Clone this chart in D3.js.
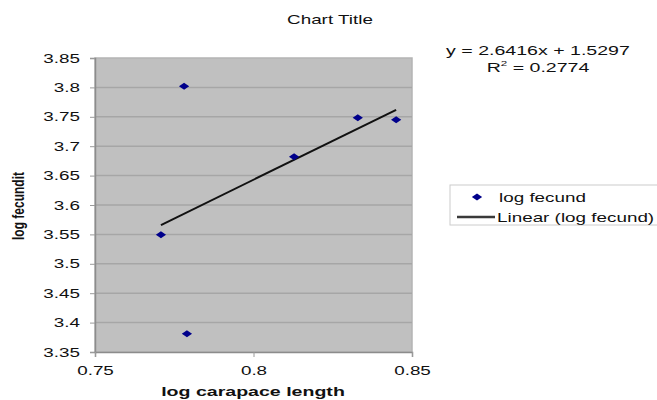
<!DOCTYPE html>
<html>
<head>
<meta charset="utf-8">
<script src="https://cdn.jsdelivr.net/npm/d3@7"></script>
<style>
  body { margin: 0; background: #fff; }
  text { font-family: "Liberation Sans", Arial, sans-serif; fill: #111; }
</style>
</head>
<body>
<div id="chart"></div>
<script>
// values
var logCarapace = [0.7781, 0.8329, 0.8450, 0.8128, 0.7708, 0.7790];
var logFecund   = [3.802, 3.7485, 3.745, 3.682, 3.5495, 3.381];
var xTicks = [0.75, 0.8, 0.85];
var yTicks = [3.35, 3.4, 3.45, 3.5, 3.55, 3.6, 3.65, 3.7, 3.75, 3.8, 3.85];
var trendSlope = 2.6416;
var trendIntercept = 1.5297;
var rSquared = 0.2774;

var width = 657, height = 400;
var sx = 1.45; // the source picture is stretched sideways
var margin = {top: 58, right: 245, bottom: 48, left: 95};
var plotW = width - margin.left - margin.right;
var plotH = height - margin.top - margin.bottom;

var svg = d3.select("#chart").append("svg")
    .attr("width", width)
    .attr("height", height);

var x = d3.scaleLinear().domain([0.75, 0.85]).range([0, plotW]);
var y = d3.scaleLinear().domain([3.35, 3.85]).range([plotH, 0]);

var g = svg.append("g").attr("transform", "translate(" + margin.left + "," + margin.top + ")");

//plot area
g.append("rect")
    .attr("width", plotW)
    .attr("height", plotH)
    .attr("fill", "#c0c0c0")
    .attr("stroke", "#b4b4b4")
    .attr("stroke-width", 1.5);

//horizontal gridlines
g.selectAll(".grid")
    .data(yTicks.slice(1, -1))
    .enter()
    .append("line")
    .attr("x1", 0).attr("x2", plotW)
    .attr("y1", d => y(d)).attr("y2", d => y(d))
    .attr("stroke", "#a6a6a6")
    .attr("stroke-width", 1.5);

//axes
var yAxis = g.append("g")
    .call(d3.axisLeft(y).tickValues(yTicks).tickSize(5).tickFormat(d3.format("")));
var xAxis = g.append("g")
    .attr("transform", "translate(0," + plotH + ")")
    .call(d3.axisBottom(x).tickValues(xTicks).tickSize(5).tickFormat(d3.format("")));

[yAxis, xAxis].forEach(function(a) {
    a.select(".domain").attr("stroke", "#8c8c8c").attr("stroke-width", 1.5);
    a.selectAll(".tick line").attr("stroke", "#9a9a9a");
    a.selectAll("text").attr("font-size", 13).attr("fill", "#111");
});
yAxis.selectAll("text")
    .attr("x", 0)
    .attr("transform", "translate(-15,0) scale(" + sx + ",1)");
xAxis.selectAll("text")
    .attr("y", 23).attr("dy", 0)
    .attr("transform", "scale(" + sx + ",1)");

//trendline
var xExt = d3.extent(logCarapace);
var trend = xExt.map(v => [x(v), y(trendSlope * v + trendIntercept)]);
g.append("path")
    .attr("d", d3.line()(trend))
    .attr("stroke", "#111")
    .attr("stroke-width", 2)
    .attr("fill", "none");

//points
var diamond = d3.symbol().type(d3.symbolSquare).size(25);
g.selectAll(".pt")
    .data(logCarapace)
    .enter()
    .append("path")
    .attr("d", diamond)
    .attr("fill", "#00008b")
    .attr("transform", (d, i) => "translate(" + x(d) + "," + y(logFecund[i]) + ") scale(" + sx + ",1) rotate(45)");

function stretchText(px, py, str, size, weight, anchor, rot) {
    return svg.append("text")
        .attr("transform", "translate(" + px + "," + py + ") scale(" + sx + ",1)" + (rot ? " rotate(" + rot + ")" : ""))
        .attr("text-anchor", anchor || "middle")
        .attr("font-size", size)
        .attr("font-weight", weight || "normal")
        .text(str);
}

//titles
stretchText(330, 24, "Chart Title", 13);
stretchText(253, 396, "log carapace length", 13.5, "bold");
stretchText(24, 206, "log fecundit", 12, "bold", "middle", -90);

//regression label
stretchText(538, 55, "y = " + trendSlope + "x + " + trendIntercept, 13.5);
var r2 = stretchText(538, 72, "", 13.5);
r2.append("tspan").text("R");
r2.append("tspan").attr("font-size", 8).attr("dy", -6).text("2");
r2.append("tspan").attr("dy", 6).text(" = " + rSquared);

//legend
var lg = svg.append("g").attr("transform", "translate(450,185)");
lg.append("rect")
    .attr("width", 230).attr("height", 40)
    .attr("fill", "#fff")
    .attr("stroke", "#cccccc");
lg.append("path")
    .attr("d", diamond)
    .attr("fill", "#00008b")
    .attr("transform", "translate(27,12) scale(" + sx + ",1) rotate(45)");
lg.append("line")
    .attr("x1", 7).attr("x2", 45)
    .attr("y1", 32).attr("y2", 32)
    .attr("stroke", "#3a3a3a")
    .attr("stroke-width", 2.5);
lg.append("text")
    .attr("transform", "translate(49,16.5) scale(" + sx + ",1)")
    .attr("font-size", 13)
    .text("log fecund");
lg.append("text")
    .attr("transform", "translate(47,36.5) scale(" + sx + ",1)")
    .attr("font-size", 13)
    .text("Linear (log fecund)");
</script>
</body>
</html>
